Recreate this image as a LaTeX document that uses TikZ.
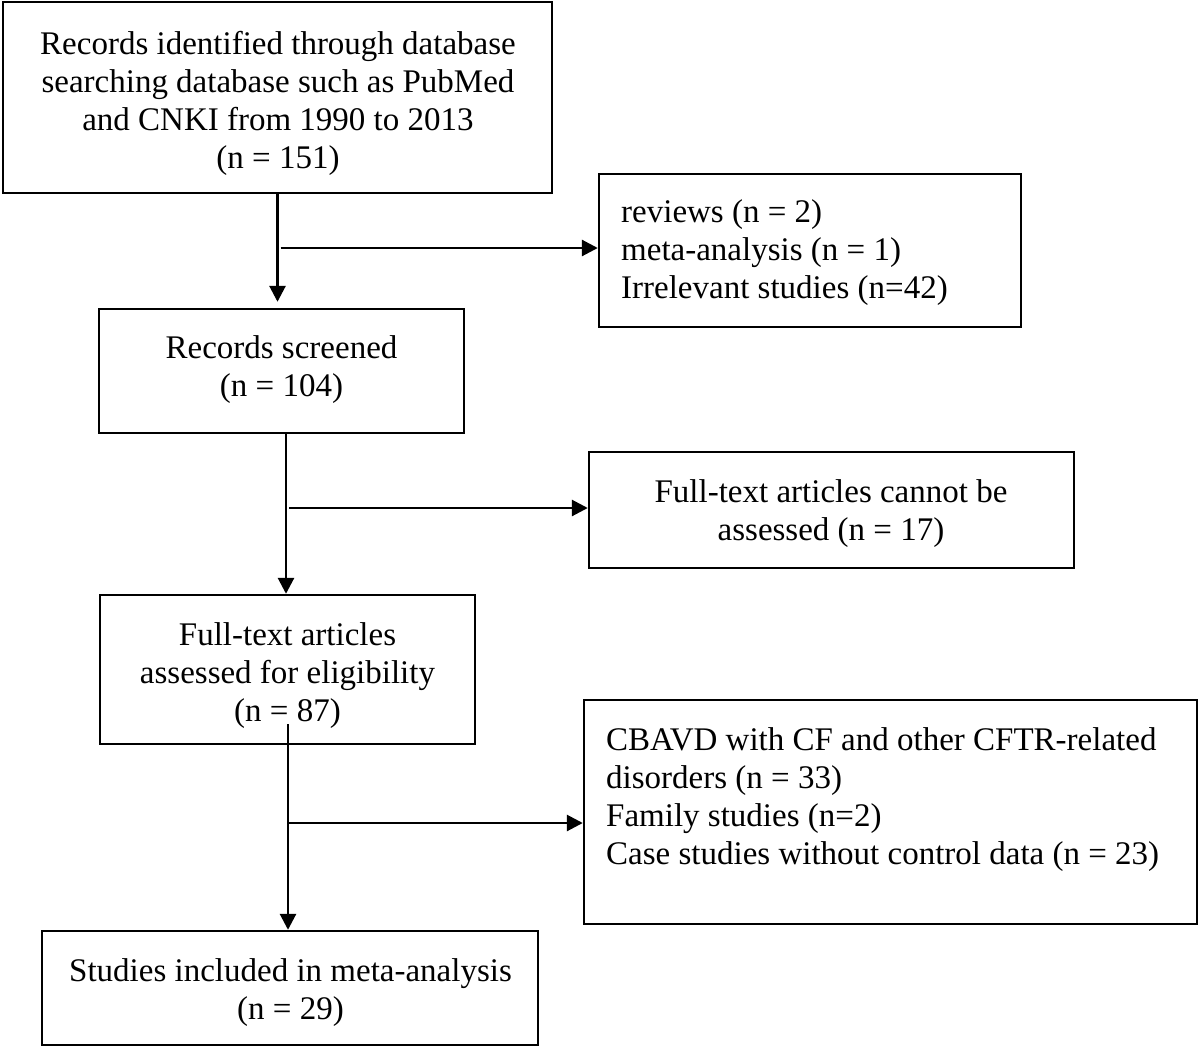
\documentclass[tikz,border=0pt]{standalone}
\usepackage{fontspec}
\setmainfont{Liberation Serif}
\usetikzlibrary{arrows.meta}
\begin{document}
\begin{tikzpicture}[x=1pt,y=-1pt,
  box/.style={draw, line width=2.4pt, inner sep=0pt},
  txt/.style={inner sep=0pt, font=\fontsize{33}{38}\selectfont, align=center},
  ltxt/.style={inner sep=0pt, font=\fontsize{33}{38}\selectfont, align=left, anchor=west},
  arr/.style={line width=2.8pt, -{Triangle[length=16pt,width=16pt]}}]
\useasboundingbox (0,0) rectangle (1200,1049);
% boxes
\node[box, minimum width=549pt, minimum height=191pt] (b1) at (277.5,97.5) {};
\node[box, minimum width=422pt, minimum height=153pt] (b2) at (810,250.5) {};
\node[box, minimum width=365pt, minimum height=124pt] (b3) at (281.5,371) {};
\node[box, minimum width=485pt, minimum height=116pt] (b4) at (831.5,510) {};
\node[box, minimum width=375pt, minimum height=149pt] (b5) at (287.5,669.5) {};
\node[box, minimum width=613pt, minimum height=224pt] (b6) at (890.5,812) {};
\node[box, minimum width=496pt, minimum height=114pt] (b7) at (290,988) {};
% texts
\node[txt] (t1) at (278,103) {Records identified through database\\searching database such as PubMed\\and CNKI from 1990 to 2013\\(n = 151)};
\node[ltxt] (t2) at (621,252.5) {reviews (n = 2)\\meta-analysis (n = 1)\\Irrelevant studies (n=42)};
\node[txt] (t3) at (281.5,370) {Records screened\\(n = 104)};
\node[txt] (t4) at (831,514) {Full-text articles cannot be\\assessed (n = 17)};
\node[txt] (t5) at (287.5,676) {Full-text articles\\assessed for eligibility\\(n = 87)};
\node[ltxt] (t6) at (606,800) {CBAVD with CF and other CFTR-related\\disorders (n = 33)\\Family studies (n=2)\\Case studies without control data (n = 23)};
\node[txt] (t7) at (290.5,993) {Studies included in meta-analysis\\(n = 29)};
% connectors
\coordinate (j1) at (277.5,248);
\coordinate (j2) at (286,508);
\coordinate (j3) at (288,823);
\coordinate (s3) at (288,724);
\draw[arr, shorten >=6pt] (b1.south -| j1) -- (b3.north -| j1);
\draw[arr] ([xshift=3pt]j1) -- (b2.west |- j1);
\draw[arr] (b3.south -| j2) -- (b5.north -| j2);
\draw[arr] ([xshift=3pt]j2) -- (b4.west |- j2);
\draw[arr] (s3) -- (b7.north -| s3);
\draw[arr] ([xshift=1pt]j3) -- (b6.west |- j3);
\end{tikzpicture}
\end{document}
